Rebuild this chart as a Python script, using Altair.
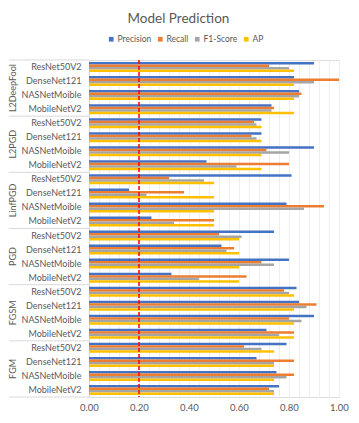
import altair as alt
import pandas as pd

attacks = ["L2DeepFool", "L2PGD", "LinfPGD", "PGD", "FGSM", "FGM"]
models = ["ResNet50V2", "DenseNet121", "NASNetMoible", "MobileNetV2"]
metrics = ["Precision", "Recall", "F1-Score", "AP"]
colors = ["#4472C4", "#ED7D31", "#A5A5A5", "#FFC000"]

precision = [0.90, 0.82, 0.84, 0.73, 0.69, 0.69, 0.90, 0.47, 0.81, 0.16, 0.79, 0.25,
             0.74, 0.53, 0.80, 0.33, 0.83, 0.84, 0.90, 0.71, 0.79, 0.67, 0.75, 0.76]
recall = [0.72, 1.00, 0.85, 0.74, 0.66, 0.65, 0.71, 0.80, 0.32, 0.38, 0.94, 0.50,
          0.52, 0.58, 0.69, 0.63, 0.78, 0.91, 0.80, 0.82, 0.62, 0.82, 0.82, 0.72]
f1_score = [0.80, 0.90, 0.84, 0.73, 0.67, 0.67, 0.80, 0.59, 0.46, 0.23, 0.86, 0.34,
            0.61, 0.55, 0.74, 0.44, 0.80, 0.87, 0.85, 0.76, 0.69, 0.74, 0.79, 0.74]
ap = [0.82, 0.82, 0.82, 0.82, 0.69, 0.69, 0.69, 0.69, 0.50, 0.50, 0.50, 0.50,
      0.60, 0.60, 0.60, 0.60, 0.82, 0.82, 0.82, 0.82, 0.74, 0.74, 0.74, 0.74]
threshold = 0.2

series = {"Precision": precision, "Recall": recall, "F1-Score": f1_score, "AP": ap}
rows = []
keys = []
i = 0
for a in attacks:
    for m in models:
        key = f"{a}|{m}"
        keys.append(key)
        for k in metrics:
            rows.append({"attack": a, "model": m, "key": key, "metric": k, "value": series[k][i]})
        i += 1
df = pd.DataFrame(rows)

FONT = "Lato"
GRAY = "#595959"
W, H = 250, 337

minor_vals = [round(j * 0.04, 2) for j in range(26)]
major_vals = [round(j * 0.2, 1) for j in range(6)]

xscale = alt.Scale(domain=[0, 1], nice=False)
yscale = alt.Scale(domain=keys, paddingInner=0, paddingOuter=0)

base = alt.Chart(df)

bars = base.mark_bar().encode(
    x=alt.X("value:Q", scale=xscale,
            axis=alt.Axis(values=minor_vals, title=None, domain=False, ticks=False,
                          labels=False, gridColor="#eeeeee", orient="bottom")),
    y=alt.Y("key:N", sort=keys, scale=yscale,
            axis=alt.Axis(title=None, ticks=False, domainColor="#d9d9d9", labelPadding=8,
                          labelExpr="split(datum.label, '|')[1]",
                          labelFontSize=9, labelColor=GRAY, labelFont=FONT)),
    yOffset=alt.YOffset("metric:N", sort=metrics,
                        scale=alt.Scale(paddingInner=0, paddingOuter=0.8)),
    color=alt.Color("metric:N", sort=metrics, scale=alt.Scale(domain=metrics, range=colors),
                    legend=alt.Legend(title=None, orient="none", direction="horizontal",
                                      legendX=18, legendY=-25, symbolType="square", symbolSize=22,
                                      labelFontSize=8.5, labelColor=GRAY, labelFont=FONT,
                                      gridAlign="none", columnPadding=4, labelOffset=2,
                                      symbolStrokeWidth=0)),
)

redline = base.mark_rule(color="#FF0000", strokeDash=[4, 2], strokeWidth=1.5).encode(
    x=alt.XDatum(threshold, type="quantitative", scale=xscale,
                 axis=alt.Axis(values=major_vals, format=".2f", title=None, domain=False,
                               ticks=False, gridColor="#d9d9d9", orient="bottom",
                               labelPadding=5, labelFontSize=9.5, labelColor=GRAY,
                               labelFont=FONT, labelFlush=False))
).transform_filter("datum.key == 'L2DeepFool|ResNet50V2' && datum.metric == 'Precision'")

sep_top = base.mark_rule(color="#d9d9d9", strokeWidth=1).encode(
    x=alt.value(-80), x2=alt.value(0),
    y=alt.Y("key:N", sort=keys, scale=yscale, bandPosition=0),
).transform_filter("datum.model == 'ResNet50V2' && datum.metric == 'Precision'")

sep_bot = base.mark_rule(color="#d9d9d9", strokeWidth=1).encode(
    x=alt.value(-80), x2=alt.value(0),
    y=alt.Y("key:N", sort=keys, scale=yscale, bandPosition=1),
).transform_filter(f"datum.key == '{keys[-1]}' && datum.metric == 'Precision'")

group_label = base.mark_text(angle=270, fontSize=9, color=GRAY, font=FONT,
                             align="center", baseline="middle").encode(
    x=alt.value(-76),
    y=alt.Y("key:N", sort=keys, scale=yscale, bandPosition=1),
    text="attack:N",
).transform_filter("datum.model == 'DenseNet121' && datum.metric == 'Precision'")

chart = alt.layer(bars, redline, sep_top, sep_bot, group_label).resolve_axis(
    x="independent"
).properties(
    width=W, height=H, padding={"top": 3, "left": 0, "right": 0, "bottom": 0},
    title=alt.TitleParams("Model Prediction", fontSize=13.5, color=GRAY, font=FONT,
                          fontWeight="normal", anchor="middle", frame="bounds", offset=10),
).configure_view(stroke="transparent").configure(background="white")

chart.save("out.html", embed_options={"renderer": "svg", "actions": False})
